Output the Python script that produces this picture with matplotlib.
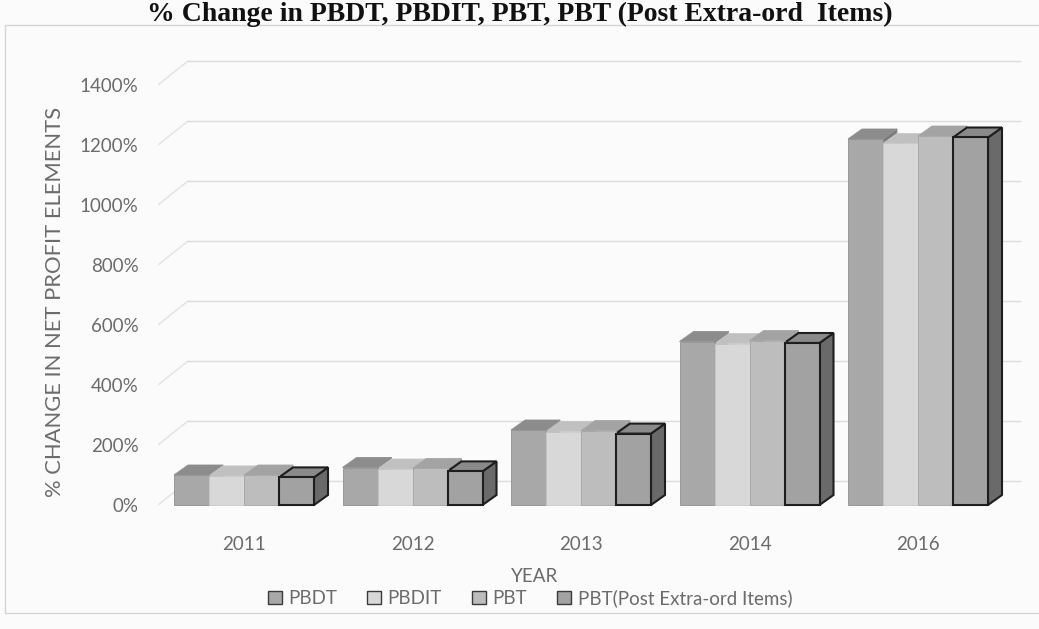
import matplotlib.pyplot as plt
from matplotlib.patches import Polygon, Patch, Rectangle

# % change in net profit elements, per year
years = ['2011', '2012', '2013', '2014', '2016']
series = ['PBDT', 'PBDIT', 'PBT', 'PBT(Post Extra-ord Items)']
pbdt = [100, 125, 250, 545, 1220]
pbdit = [97, 120, 245, 538, 1205]
pbt = [100, 122, 248, 548, 1230]
pbt_post = [92, 112, 238, 540, 1225]
yticks = [0, 200, 400, 600, 800, 1000, 1200, 1400]

values = [pbdt, pbdit, pbt, pbt_post]
front_c = ['#a8a8a8', '#d8d8d8', '#bdbdbd', '#a2a2a2']
top_c = ['#8c8c8c', '#c0c0c0', '#a3a3a3', '#8a8a8a']
side_c = ['#7a7a7a', '#a8a8a8', '#8e8e8e', '#6a6a6a']
edge_c = ['#8f8f8f', '#c8c8c8', '#a6a6a6', '#1e1e1e']
edge_w = [0.6, 0.6, 0.6, 1.5]
txt_gray = '#6b6b6b'

plt.rcParams['font.family'] = ['Lato', 'DejaVu Sans']

W, H = 1039, 629
fig = plt.figure(figsize=(W / 100, H / 100), dpi=100)
fig.patch.set_facecolor('#fbfbfb')

# axes box in pixels, zero line of the front plane at y=505
pl, pr, pt, pb = 158, 1030, 40, 530
y0px = 505
xscale = 168.5   # px per category
yscale = 0.3     # px per percent
ax = fig.add_axes([pl / W, 1 - pb / H, (pr - pl) / W, (pb - pt) / H])
ax.set_facecolor('none')
xl = -(244 - pl) / xscale
ax.set_xlim(xl, xl + (pr - pl) / xscale)
ax.set_ylim(-(pb - y0px) / yscale, (y0px - pt) / yscale)
for s in ax.spines.values():
    s.set_visible(False)

# depth of the walls and of the bars (px -> data units)
wdx, wdy = 30 / xscale, 24 / yscale
bdx, bdy = 14 / xscale, 10 / yscale
xr = xl + (1020 - pl) / xscale

grid_c = '#dcdcdc'
for v in yticks:
    ax.plot([xl, xl + wdx], [v, v + wdy], color='#e2e2e2', lw=1, zorder=1)
    ax.plot([xl + wdx, xr], [v + wdy, v + wdy], color=grid_c, lw=1, zorder=1)

bw = 35 / xscale
for j, vals in enumerate(values):
    lefts = [i + (j - 2) * bw for i in range(len(years))]
    for x, h in zip(lefts, vals):
        ax.add_patch(Polygon([(x + bw, 0), (x + bw + bdx, bdy), (x + bw + bdx, h + bdy), (x + bw, h)],
                             closed=True, facecolor=side_c[j], edgecolor=edge_c[j],
                             lw=edge_w[j], zorder=2))
        ax.add_patch(Polygon([(x, h), (x + bw, h), (x + bw + bdx, h + bdy), (x + bdx, h + bdy)],
                             closed=True, facecolor=top_c[j], edgecolor=edge_c[j],
                             lw=edge_w[j], zorder=3))
    ax.bar(lefts, vals, width=bw, align='edge', color=front_c[j],
           edgecolor=edge_c[j], linewidth=edge_w[j], zorder=4)

ax.set_yticks(yticks, [f'{v}%' for v in yticks])
ax.set_xticks(range(len(years)), years)
ax.tick_params(axis='y', length=0, pad=14, labelsize=13.5, labelcolor=txt_gray)
ax.tick_params(axis='x', length=0, pad=4, labelsize=13.5, labelcolor=txt_gray)

fig.text(55 / W, 1 - 302 / H, '% CHANGE IN NET PROFIT ELEMENTS', rotation=90,
         ha='center', va='center', fontsize=15.8, color=txt_gray)
fig.text(535 / W, 1 - 576 / H, 'YEAR', ha='center', va='center',
         fontsize=13.5, color=txt_gray)

handles = [Patch(facecolor=front_c[j], edgecolor='#3a3a3a', lw=1) for j in range(4)]
fig.legend(handles, series, loc='center', bbox_to_anchor=(530 / W, 1 - 598 / H),
           ncol=4, frameon=False, fontsize=13.5, labelcolor=txt_gray,
           handlelength=0.75, handleheight=0.75, handletextpad=0.35, columnspacing=1.6)

fig.text(893 / W, 1 - 21 / H, '% Change in PBDT, PBDIT, PBT, PBT (Post Extra-ord  Items)',
         ha='right', va='baseline', fontsize=20, fontweight='bold',
         family=['Liberation Serif', 'DejaVu Serif'], color='#111111')

# faint chart area border
fig.add_artist(Rectangle((5 / W, 1 - 613 / H), 1.1, (613 - 25) / H, transform=fig.transFigure,
                         fill=False, edgecolor='#d4d4d4', lw=1))

fig.savefig('out.png', dpi=100, facecolor=fig.get_facecolor())
